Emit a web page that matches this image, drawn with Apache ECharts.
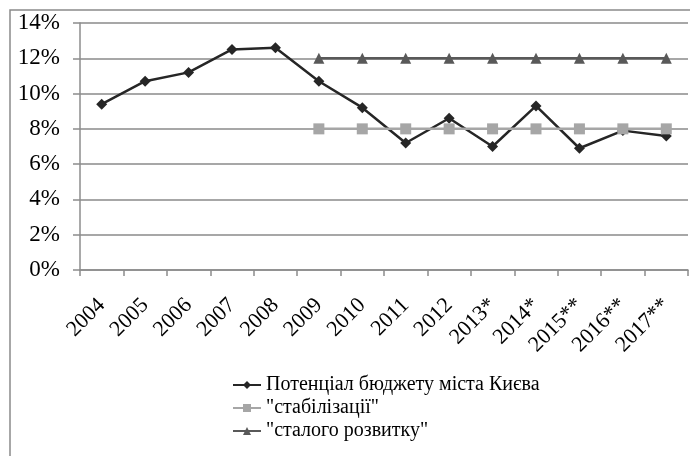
<!DOCTYPE html>
<html>
<head>
<meta charset="utf-8">
<script src="https://cdn.jsdelivr.net/npm/echarts@6/dist/echarts.min.js"></script>
<style>
  html, body { margin: 0; padding: 0; background: #fff; }
  #chart { width: 690px; height: 456px; }
</style>
</head>
<body>
<div id="chart"></div>
<script>
// Years (forecast years marked with asterisks)
const years = ['2004', '2005', '2006', '2007', '2008', '2009', '2010',
               '2011', '2012', '2013*', '2014*', '2015**', '2016**', '2017**'];

// Budget potential of Kyiv, %
const kyivBudget = [9.4, 10.7, 11.2, 12.5, 12.6, 10.7, 9.2, 7.2, 8.6, 7.0, 9.3, 6.9, 7.9, 7.6];

// Scenario thresholds, %
const stabilization = [null, null, null, null, null, 8, 8, 8, 8, 8, 8, 8, 8, 8];
const sustainable   = [null, null, null, null, null, 12, 12, 12, 12, 12, 12, 12, 12, 12];

// Y axis ticks
const yTicks = { min: 0, max: 14, step: 2 };

const seriesNames = ['Потенціал бюджету міста Києва', '"стабілізації"', '"сталого розвитку"'];

const serif = '"Liberation Serif", "DejaVu Serif", serif';

const chart = echarts.init(document.getElementById('chart'), null, { renderer: 'canvas' });

chart.setOption({
  animation: false,
  backgroundColor: '#ffffff',
  graphic: [{
    type: 'rect',
    shape: { x: 10, y: 10, width: 700, height: 470 },
    style: { fill: 'none', stroke: '#8a8a8a', lineWidth: 1.5 },
    silent: true,
    z: -1
  }],
  grid: { left: 80, right: 2, top: 23, bottom: 186, containLabel: false },
  legend: {
    orient: 'vertical',
    left: 227,
    top: 370,
    itemWidth: 28,
    itemHeight: 10,
    itemGap: 3,
    textStyle: { fontFamily: serif, fontSize: 20, color: '#000' },
    data: seriesNames
  },
  xAxis: {
    type: 'category',
    data: years,
    boundaryGap: true,
    axisLine: { lineStyle: { color: '#8c8c8c', width: 1.5 } },
    axisTick: { show: true, length: 6, lineStyle: { color: '#8c8c8c', width: 1.5 } },
    axisLabel: {
      rotate: 45,
      margin: 32,
      fontFamily: serif,
      fontSize: 22,
      color: '#000',
      interval: 0
    },
    splitLine: { show: false }
  },
  yAxis: {
    type: 'value',
    min: yTicks.min,
    max: yTicks.max,
    interval: yTicks.step,
    axisLine: { show: true, lineStyle: { color: '#8c8c8c', width: 1.5 } },
    axisTick: { show: true, length: 7, lineStyle: { color: '#8c8c8c', width: 1.5 } },
    axisLabel: {
      formatter: '{value}%',
      margin: 20,
      fontFamily: serif,
      fontSize: 23,
      color: '#000'
    },
    splitLine: { lineStyle: { color: '#8a8a8a', width: 1.5 } }
  },
  series: [
    {
      name: seriesNames[0],
      type: 'line',
      data: kyivBudget,
      symbol: 'diamond',
      symbolSize: 11,
      lineStyle: { color: '#262626', width: 2.5 },
      itemStyle: { color: '#262626' }
    },
    {
      name: seriesNames[1],
      type: 'line',
      data: stabilization,
      symbol: 'rect',
      symbolSize: 11,
      lineStyle: { color: '#a6a6a6', width: 2.5 },
      itemStyle: { color: '#a6a6a6' }
    },
    {
      name: seriesNames[2],
      type: 'line',
      data: sustainable,
      symbol: 'triangle',
      symbolSize: 11,
      lineStyle: { color: '#595959', width: 2.5 },
      itemStyle: { color: '#595959' }
    }
  ]
});
</script>
</body>
</html>
